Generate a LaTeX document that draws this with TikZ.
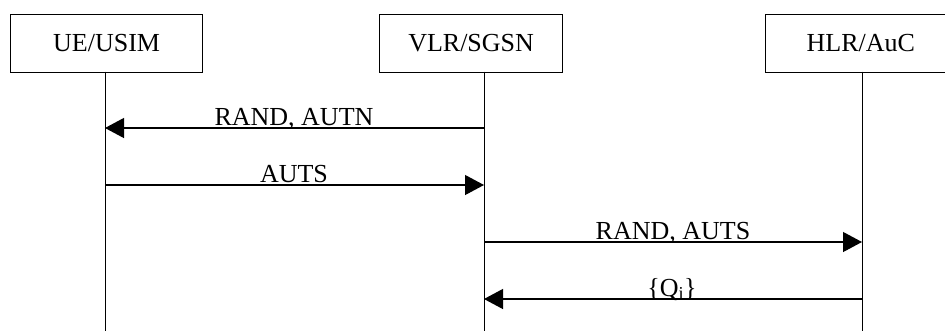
\documentclass[tikz,border=0pt]{standalone}
\usepackage{fontspec}
\setmainfont{Liberation Serif}
\usetikzlibrary{arrows.meta}
\begin{document}
\begin{tikzpicture}[x=1pt,y=-1pt,
  entity/.style={draw,line width=1.2pt,inner sep=0pt,anchor=north west,
    font=\fontsize{26}{30}\selectfont},
  life/.style={line width=1pt},
  msg/.style={line width=1.2pt,-{Triangle[length=19pt,width=20pt]}},
  lbl/.style={font=\fontsize{26}{30}\selectfont,inner sep=0pt,anchor=base}]
\clip (0,0) rectangle (945,330);
\useasboundingbox (0,0) rectangle (945,330);
% entities
\node[entity,minimum width=192pt,minimum height=58pt] (ue) at (10,13.5) {UE/USIM};
\node[entity,minimum width=183pt,minimum height=58pt] (vlr) at (379,13.5) {VLR/SGSN};
\node[entity,minimum width=193pt,minimum height=58pt,text width=193pt,align=left] (hlr) at (765,13.5) {\hspace*{41pt}HLR/AuC};
% lifelines
\coordinate (uetop) at (105,71.5);
\coordinate (vlrtop) at (484,71.5);
\coordinate (hlrtop) at (862,71.5);
\coordinate (uebot) at (105,331);
\coordinate (vlrbot) at (484,331);
\coordinate (hlrbot) at (862,331);
\draw[life] (uetop) -- (uebot);
\draw[life] (vlrtop) -- (vlrbot);
\draw[life] (hlrtop) -- (hlrbot);
% message points
\coordinate (ue1) at (105,128);
\coordinate (vlr1) at (484,128);
\coordinate (ue2) at (105,185);
\coordinate (vlr2) at (484,185);
\coordinate (vlr3) at (484,242);
\coordinate (hlr3) at (862,242);
\coordinate (vlr4) at (484,299);
\coordinate (hlr4) at (862,299);
% messages
\draw[msg] (vlr1) -- (ue1);
\node[lbl] (m1) at (294,125) {RAND, AUTN};
\draw[msg] (ue2) -- (vlr2);
\node[lbl] (m2) at (294,182.5) {AUTS};
\draw[msg] (vlr3) -- (hlr3);
\node[lbl] (m3) at (673,239.5) {RAND, AUTS};
\draw[msg] (hlr4) -- (vlr4);
\node[lbl] (m4) at (672,296) {\{Q\textsubscript{i}\}};
\end{tikzpicture}
\end{document}
